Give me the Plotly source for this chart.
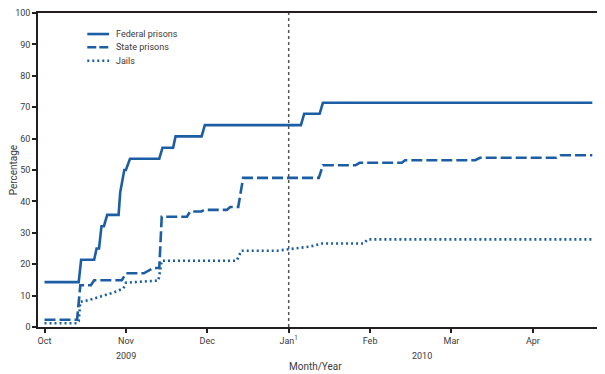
import plotly.graph_objects as go

# x = months elapsed since Oct 1, 2009 (months drawn equally spaced)
tick_vals = [0, 1, 2, 3, 4, 5, 6]
tick_text = ["Oct", "Nov", "Dec", "Jan<sup>1</sup>", "Feb", "Mar", "Apr"]
y_ticks = [0, 10, 20, 30, 40, 50, 60, 70, 80, 90, 100]
series_names = ["Federal prisons", "State prisons", "Jails"]

federal_x = [0, 0.42, 0.45, 0.61, 0.64, 0.67, 0.70, 0.73, 0.77, 0.91, 0.93, 0.98, 1.00, 1.05,
             1.41, 1.45, 1.58, 1.61, 1.93, 1.97, 3.15, 3.19, 3.38, 3.42, 6.73]
federal_y = [14.3, 14.3, 21.4, 21.4, 25.0, 25.0, 32.1, 32.1, 35.7, 35.7, 42.9, 50.0, 50.0, 53.6,
             53.6, 57.1, 57.1, 60.7, 60.7, 64.3, 64.3, 67.9, 67.9, 71.4, 71.4]

state_x = [0, 0.40, 0.44, 0.57, 0.61, 0.95, 1.00, 1.22, 1.34, 1.41, 1.44, 1.75, 1.79, 1.93, 1.96,
           2.24, 2.28, 2.38, 2.44, 3.37, 3.42, 3.82, 3.87, 4.39, 4.43, 5.29, 5.35, 6.29, 6.34, 6.73]
state_y = [2.3, 2.3, 13.3, 13.3, 14.9, 14.9, 17.1, 17.1, 18.8, 18.8, 35.1, 35.1, 36.8, 36.8, 37.3,
           37.3, 38.2, 38.2, 47.5, 47.5, 51.5, 51.5, 52.3, 52.3, 53.1, 53.1, 53.9, 53.9, 54.7, 54.7]

jails_x = [0, 0.40, 0.42, 0.44, 0.55, 0.70, 0.85, 0.97, 1.00, 1.40, 1.44, 2.36, 2.42, 2.86, 3.02,
           3.26, 3.41, 3.92, 3.97, 6.73]
jails_y = [1.2, 1.2, 1.8, 8.0, 8.6, 9.9, 11.0, 12.3, 14.1, 14.8, 21.1, 21.1, 24.3, 24.3, 24.9,
           25.6, 26.6, 26.6, 27.9, 27.9]

blue = "#1b5ea3"
axis_col = "#231f20"
txt_col = "#3a3a3a"
font_fam = "Roboto, Liberation Sans, sans-serif"
dashes = ["solid", "11px,4px", "2px,3px"]

fig = go.Figure()
for name, xs, ys, dash in zip(series_names, [federal_x, state_x, jails_x],
                              [federal_y, state_y, jails_y], dashes):
    fig.add_trace(go.Scatter(x=xs, y=ys, mode="lines", name=name, showlegend=False,
                             line=dict(color=blue, width=2.6, dash=dash)))

fig.add_shape(type="line", xref="x", yref="paper", x0=3, x1=3, y0=0, y1=1,
              line=dict(color="#555555", width=1.5, dash="dot"), layer="below")

# manual legend (compact rows as in the original)
annotations = []
leg_rows = [0.933, 0.891, 0.848]
leg_dashes = ["solid", "9px,3px", "2px,3px"]
for name, dash, yy in zip(series_names, leg_dashes, leg_rows):
    fig.add_shape(type="line", xref="paper", yref="paper", x0=0.088, x1=0.127, y0=yy, y1=yy,
                  line=dict(color=blue, width=2.6, dash=dash))
    annotations.append(dict(text=name, x=0.136, xref="paper", y=yy, yref="paper",
                            showarrow=False, xanchor="left", yanchor="middle",
                            font=dict(size=9, color=txt_col)))

annotations += [
    dict(text="2009", x=1, xref="x", y=-0.092, yref="paper", showarrow=False,
         xanchor="center", yanchor="middle", font=dict(size=9, color=txt_col)),
    dict(text="2010", x=4.64, xref="x", y=-0.092, yref="paper", showarrow=False,
         xanchor="center", yanchor="middle", font=dict(size=9, color=txt_col)),
    dict(text="Month/Year", x=0.495, xref="paper", y=-0.127, yref="paper", showarrow=False,
         xanchor="center", yanchor="middle", font=dict(size=10, color=txt_col)),
    dict(text="Percentage", x=-0.044, xref="paper", y=0.5, yref="paper", showarrow=False,
         xanchor="center", yanchor="middle", textangle=-90, font=dict(size=10, color=txt_col)),
]

fig.update_layout(
    width=597, height=366,
    margin=dict(l=30, r=7, t=5, b=47, autoexpand=False),
    paper_bgcolor="white", plot_bgcolor="white",
    font=dict(family=font_fam, size=9, color=txt_col),
    showlegend=False,
    xaxis=dict(range=[-0.08, 6.80], tickmode="array", tickvals=tick_vals, ticktext=tick_text,
               showgrid=False, zeroline=False, showline=True, linecolor=axis_col, linewidth=1.5,
               mirror=True, ticks="outside", ticklen=4, tickcolor=axis_col, tickwidth=1.5,
               tickfont=dict(size=9, color=txt_col), automargin=False),
    yaxis=dict(range=[0, 100], tickmode="array", tickvals=y_ticks,
               showgrid=False, zeroline=False, showline=True, linecolor=axis_col, linewidth=1.5,
               mirror=True, ticks="outside", ticklen=4, tickcolor=axis_col, tickwidth=1.5,
               tickfont=dict(size=9, color=txt_col), automargin=False),
    annotations=annotations,
)

fig.write_html("out.html")
